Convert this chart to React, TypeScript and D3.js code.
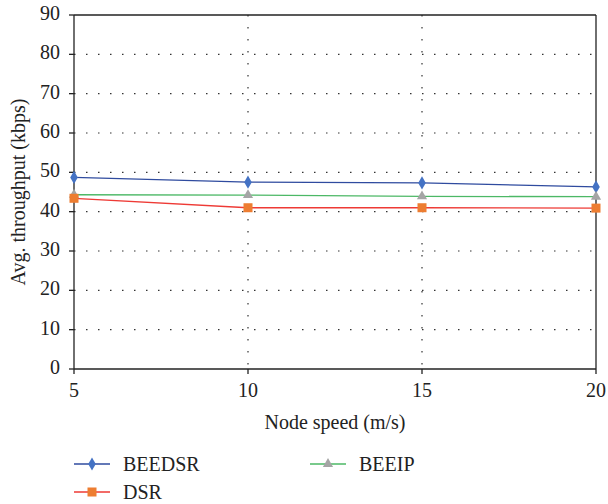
import React from 'react';
import * as d3 from 'd3';

const speeds = [5, 10, 15, 20];
const beedsr = [48.7, 47.5, 47.3, 46.3];
const beeip = [44.3, 44.2, 43.9, 43.8];
const dsr = [43.4, 41.0, 41.0, 40.9];
const yTicks = [0, 10, 20, 30, 40, 50, 60, 70, 80, 90];

const W = 608;
const H = 504;
const m = { left: 74, right: 12, top: 15, bottom: 135 };
const font = '"Liberation Serif", "DejaVu Serif", serif';

const App = () => {
  const x = d3.scaleLinear().domain([5, 20]).range([m.left, W - m.right]);
  const y = d3.scaleLinear().domain([0, 90]).range([H - m.bottom, m.top]);

  const line = d3
    .line<number>()
    .x((d, i) => x(speeds[i]))
    .y((d) => y(d));

  const diamond = d3.symbol().type(d3.symbolDiamond).size(50)();
  const tri = d3.symbol().type(d3.symbolTriangle).size(45)();

  const series = [
    { name: 'BEEDSR', vals: beedsr, stroke: '#2f4b9f', fill: '#4472c4', mark: 'diamond' },
    { name: 'BEEIP', vals: beeip, stroke: '#4cb866', fill: '#a5a5a5', mark: 'tri' },
    { name: 'DSR', vals: dsr, stroke: '#ee3a35', fill: '#ed7d31', mark: 'square' },
  ];

  const marker = (kind: string, cx: number, cy: number, fill: string, k: number) => {
    if (kind === 'square')
      return <rect key={k} x={cx - 4.5} y={cy - 4.5} width={9} height={9} fill={fill} />;
    return (
      <path
        key={k}
        d={kind === 'diamond' ? diamond : tri}
        transform={`translate(${cx},${cy})`}
        fill={fill}
      />
    );
  };

  const legend = [
    { s: series[0], lx: 74, ly: 464 },
    { s: series[1], lx: 310, ly: 464 },
    { s: series[2], lx: 74, ly: 492 },
  ];

  return (
    <svg width={W} height={H} style={{ position: 'absolute', left: 0, top: 0 }} fontFamily={font}>
      <rect width={W} height={H} fill="#fff" />
      {/* grid */}
      {yTicks.slice(1, -1).map((t) => (
        <line key={t} x1={x(5)} x2={x(20)} y1={y(t)} y2={y(t)}
          stroke="#333" strokeWidth={1.2} strokeDasharray="1.5 10.5" />
      ))}
      {[10, 15].map((s) => (
        <line key={s} x1={x(s)} x2={x(s)} y1={y(90)} y2={y(0)}
          stroke="#333" strokeWidth={1.2} strokeDasharray="1.5 10.5" />
      ))}
      {/* frame */}
      <line x1={x(5)} x2={x(20)} y1={y(90)} y2={y(90)} stroke="#222" strokeWidth={1.3} />
      <line x1={x(5)} x2={x(20)} y1={y(0)} y2={y(0)} stroke="#222" strokeWidth={1.3} />
      <line x1={x(5)} x2={x(5)} y1={y(90)} y2={y(0)} stroke="#222" strokeWidth={1.3} />
      <line x1={x(20)} x2={x(20)} y1={y(90)} y2={y(0)} stroke="#222" strokeWidth={1.3} />
      {yTicks.map((t) => (
        <g key={t}>
          <line x1={x(5) - 5} x2={x(5)} y1={y(t)} y2={y(t)} stroke="#222" strokeWidth={1.3} />
          <text x={x(5) - 14} y={y(t) + 5} textAnchor="end" fontSize={20} fill="#222">{t}</text>
        </g>
      ))}
      {speeds.map((s) => (
        <g key={s}>
          <line x1={x(s)} x2={x(s)} y1={y(0)} y2={y(0) + 5} stroke="#222" strokeWidth={1.3} />
          <text x={x(s)} y={y(0) + 28} textAnchor="middle" fontSize={20} fill="#222">{s}</text>
        </g>
      ))}
      <text x={335} y={429} textAnchor="middle" fontSize={20} fill="#222">Node speed (m/s)</text>
      <text transform={`translate(25,${y(45)}) rotate(-90)`} textAnchor="middle" fontSize={20} fill="#222">
        Avg. throughput (kbps)
      </text>
      {/* series */}
      {series.map((s) => (
        <g key={s.name}>
          <path d={line(s.vals) || ''} fill="none" stroke={s.stroke} strokeWidth={1.3} />
          {s.vals.map((v, i) => marker(s.mark, x(speeds[i]), y(v), s.fill, i))}
        </g>
      ))}
      {/* legend */}
      {legend.map(({ s, lx, ly }) => (
        <g key={s.name}>
          <line x1={lx} x2={lx + 36} y1={ly} y2={ly} stroke={s.stroke} strokeWidth={1.3} />
          {marker(s.mark, lx + 18, ly, s.fill, 0)}
          <text x={lx + 49} y={ly + 7} fontSize={20} fill="#222">{s.name}</text>
        </g>
      ))}
    </svg>
  );
};

export default App;
